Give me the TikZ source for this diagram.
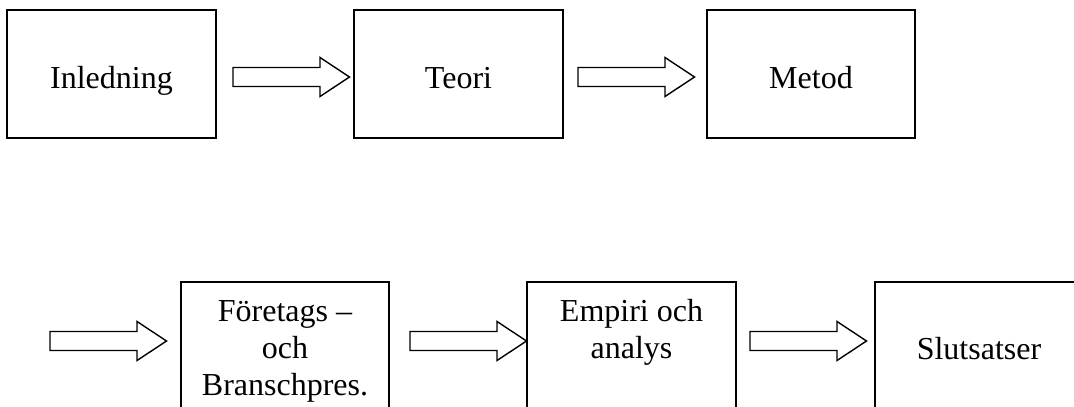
\documentclass[tikz,border=0pt]{standalone}
\usepackage{fontspec}
\setmainfont{Liberation Serif}
\begin{document}
\begin{tikzpicture}[x=1pt,y=-1pt,
  box/.style={draw=black,line width=2pt,minimum width=208.5pt,minimum height=128pt,inner sep=0pt},
  lbl/.style={font=\fontsize{32}{36.8}\selectfont,inner sep=0pt,align=center,anchor=base},
  barrow/.pic={\draw[line width=1.4pt,line join=miter] (0,-9.5) -- (87,-9.5) -- (87,-19.5) -- (116.5,0) -- (87,19.5) -- (87,9.5) -- (0,9.5) -- cycle;}
]
\clip (0,0) rectangle (1074,407);
% top row
\node[box] (inl) at (111.5,74) {};
\node[box] (teo) at (458.5,74) {};
\node[box] (met) at (811,74) {};
\node[lbl] (tinl) at ([yshift=-14pt]inl.center) {Inledning};
\node[lbl] (tteo) at ([yshift=-14pt]teo.center) {Teori};
\node[lbl] (tmet) at ([yshift=-14pt]met.center) {Metod};
\pic at (233,77) {barrow};
\pic at (578,77) {barrow};
% bottom row
\node[box] (for) at (285,346) {};
\node[box] (emp) at (631.5,346) {};
\node[box] (slu) at (979,346) {};
\node[lbl] (tfor) at ([yshift=-49.5pt]for.center) {Företags –\\och\\Branschpres.};
\node[lbl] (temp) at ([yshift=-12.5pt]emp.center) {Empiri och\\analys};
\node[lbl] (tslu) at ([yshift=-13pt]slu.center) {Slutsatser};
\pic at (50,341) {barrow};
\pic at (410,341) {barrow};
\pic at (750,341) {barrow};
\end{tikzpicture}
\end{document}
